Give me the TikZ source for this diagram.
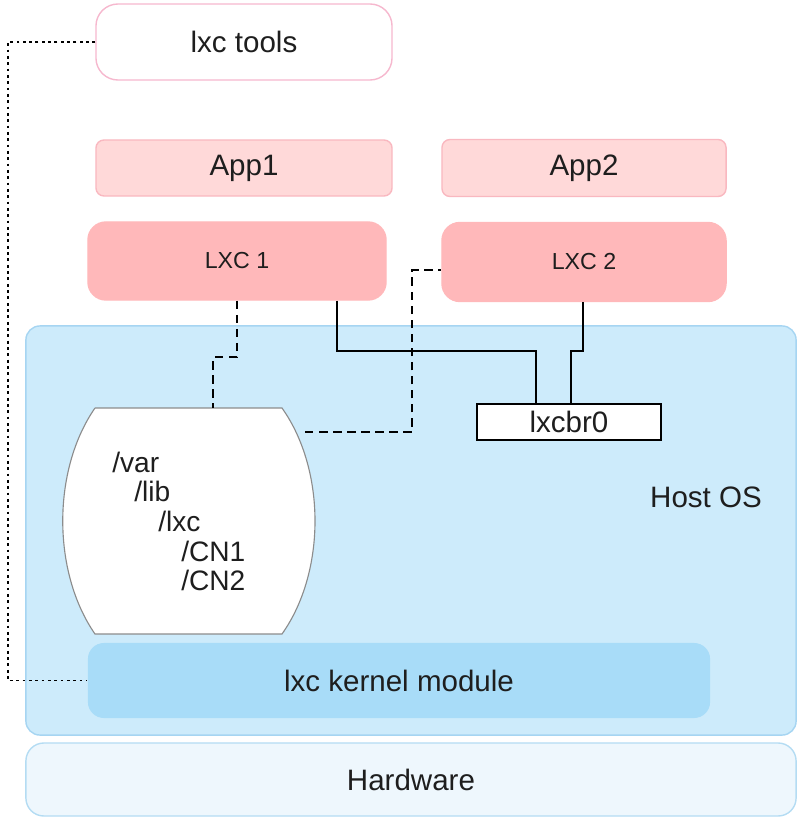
\documentclass[tikz,border=0pt]{standalone}
\usepackage{fontspec}
\setmainfont{Liberation Sans}
\usetikzlibrary{calc}
\definecolor{toolpink}{RGB}{246, 184, 206}
\definecolor{apppink}{RGB}{255, 217, 217}
\definecolor{appedge}{RGB}{249, 184, 192}
\definecolor{lxcpink}{RGB}{255, 184, 186}
\definecolor{hostblue}{RGB}{205, 235, 251}
\definecolor{hostedge}{RGB}{166, 213, 242}
\definecolor{kernblue}{RGB}{168, 220, 248}
\definecolor{hwblue}{RGB}{238, 247, 253}
\definecolor{hwedge}{RGB}{180, 220, 243}
\definecolor{txtgray}{RGB}{30, 30, 30}

\tikzset{
  box/.style={rectangle, line width=1pt, text=txtgray, inner sep=0pt,
              font=\fontsize{21}{24}\selectfont},
  toolbox/.style={box, draw=toolpink, fill=white, rounded corners=0.55cm},
  appbox/.style={box, draw=appedge, fill=apppink, rounded corners=0.2cm},
  lxcbox/.style={box, draw=lxcpink, fill=lxcpink, rounded corners=0.45cm,
                 font=\fontsize{16.5}{19}\selectfont},
  dashlink/.style={line width=1.4pt, dash pattern=on 6pt off 4pt},
  dotlink/.style={line width=1.2pt, dash pattern=on 2pt off 2.5pt},
  solidlink/.style={line width=1.2pt},
  dirtext/.style={anchor=west, text=txtgray, inner sep=0pt,
                  font=\fontsize{20}{23}\selectfont}
}

\begin{document}
\begin{tikzpicture}[x=0.025cm, y=-0.025cm]
\useasboundingbox (0,0) rectangle (797,820);

% Host OS and hardware layers
\node[box, draw=hostedge, fill=hostblue, rounded corners=0.35cm,
      minimum width=19.25cm, minimum height=10.225cm] (host) at (411,530.5) {};
\node[box] (hostlbl) at (706,497) {Host OS};
\node[box, draw=hwedge, fill=hwblue, rounded corners=0.45cm,
      minimum width=19.25cm, minimum height=1.825cm] (hw) at (411,779.5) {Hardware};
\node[box, fill=kernblue, rounded corners=0.4cm,
      minimum width=15.55cm, minimum height=1.875cm] (kernel) at (399,680.5) {lxc kernel module};

% Tools, apps and containers
\node[toolbox, minimum width=7.4cm, minimum height=1.9cm] (tools) at (244,42) {lxc tools};
\node[appbox, minimum width=7.4cm, minimum height=1.4cm] (app1) at (244,168) {App1};
\node[appbox, minimum width=7.1cm, minimum height=1.425cm] (app2) at (584,168) {App2};
\node[lxcbox, minimum width=7.45cm, minimum height=1.95cm] (lxc1) at (237,261) {LXC 1};
\node[lxcbox, minimum width=7.1cm, minimum height=1.975cm] (lxc2) at (584,262) {LXC 2};

% Bridge
\node[box, draw=black, fill=white, minimum width=4.6cm, minimum height=0.9cm] (bridge) at (569,422) {lxcbr0};

% Container storage
\draw[line width=0.8pt, draw=gray!90, fill=white]
  (95,408) -- (282,408) .. controls (326,470) and (326,572) .. (282,634)
  -- (95,634) .. controls (52,572) and (52,470) .. (95,408);
\coordinate (storetop) at (213,408);
\coordinate (storeright) at (305,432);
\node[dirtext] (var) at (112,462) {/var};
\node[dirtext] (lib) at (134,491) {/lib};
\node[dirtext] (lxc) at (158,521) {/lxc};
\node[dirtext] (cn1) at (181,551) {/CN1};
\node[dirtext] (cn2) at (181,580) {/CN2};

% Links
\coordinate (toolcorner) at (8,42);
\draw[dotlink] (tools.west) -- (toolcorner) |- (kernel.west);

\coordinate (step1) at (237,357);
\coordinate (step2) at (213,357);
\draw[dashlink] (lxc1.south) -- (step1) -- (step2) -- (storetop);

\coordinate (up1) at (412,432);
\coordinate (up2) at (412,270);
\draw[dashlink] (storeright) -- (up1) -- (up2) -- (up2 -| lxc2.west);

\coordinate (br1) at (337,351);
\coordinate (br2) at (536,351);
\draw[solidlink] (lxc1.south -| br1) -- (br1) -- (br2) -- (bridge.north -| br2);

\coordinate (br3) at (583,351);
\coordinate (br4) at (571,351);
\draw[solidlink] (lxc2.south -| br3) -- (br3) -- (br4) -- (bridge.north -| br4);
\end{tikzpicture}
\end{document}
